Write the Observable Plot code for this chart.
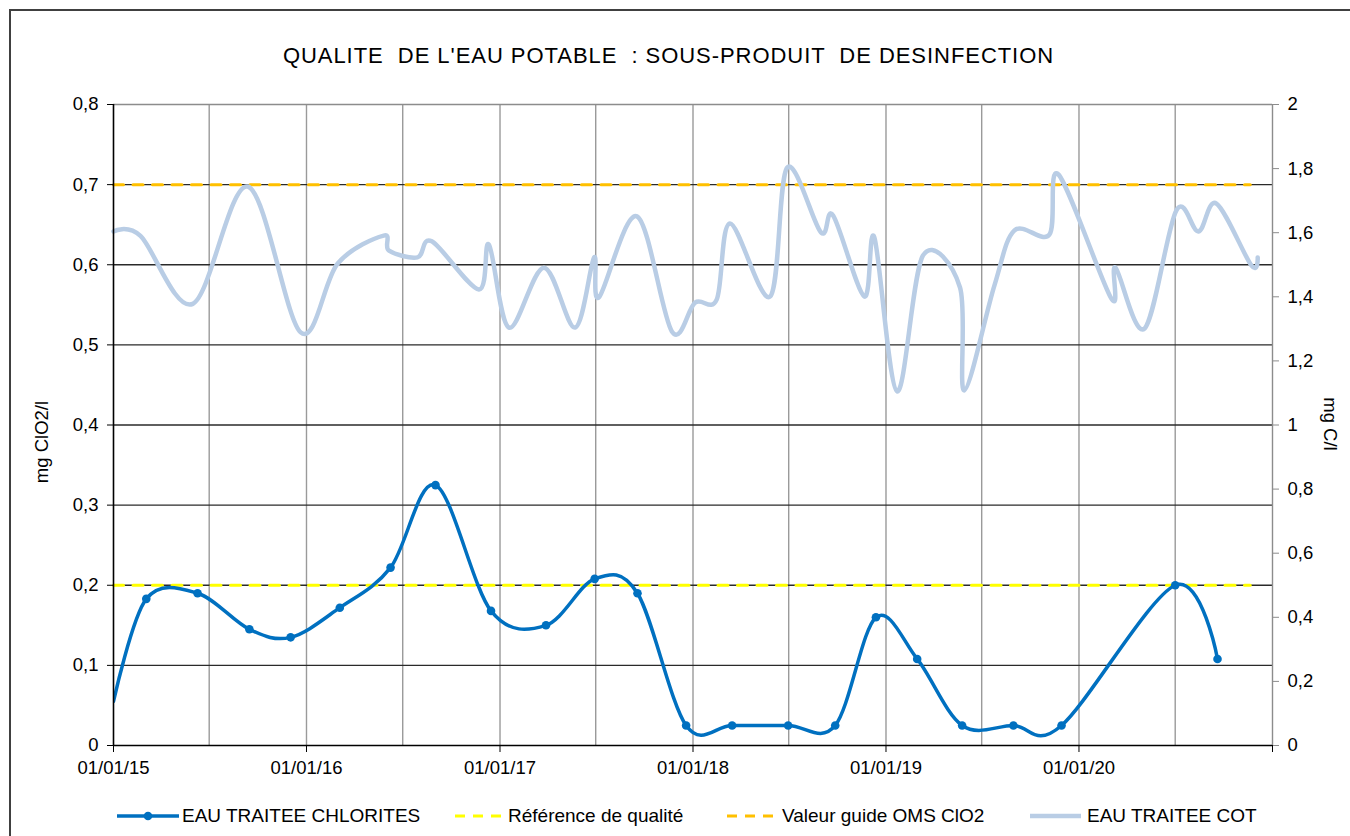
<!DOCTYPE html>
<html><head><meta charset="utf-8">
<script src="https://cdn.jsdelivr.net/npm/d3@7"></script>
<script src="https://cdn.jsdelivr.net/npm/@observablehq/plot@0.6"></script>
<style>
body{margin:0;background:#fff;font-family:"Liberation Sans",Arial,sans-serif;color:#000;}
#wrap{position:relative;width:1350px;height:836px;overflow:hidden;background:#fff;}
#frame{position:absolute;left:9px;top:9px;width:1400px;height:900px;border:2px solid #404040;box-sizing:border-box;}
#chart{position:absolute;left:0;top:0;}
#title{position:absolute;left:0;width:1337px;top:43px;text-align:center;font-size:22px;white-space:pre;letter-spacing:0.95px;}
.ytitle{position:absolute;font-size:18.5px;white-space:nowrap;}
.leg{position:absolute;top:804px;height:24px;display:flex;align-items:center;font-size:19px;white-space:nowrap;}
.leg svg{margin-right:3px;}
</style>
</head><body>
<div id="wrap">
  <div id="frame"></div>
  <div id="chart"></div>
  <div id="title"></div>
  <div class="ytitle" id="yl"></div>
  <div class="ytitle" id="yr"></div>
  <div id="legend"></div>
</div>
<script>
// ---- data ----
const titleText = "QUALITE  DE L'EAU POTABLE  : SOUS-PRODUIT  DE DESINFECTION";
const leftTitle = "mg ClO2/l";
const rightTitle = "mg C/l";

const chloriteDates = ["2015-01-01","2015-03-04","2015-06-09","2015-09-15","2015-12-02","2016-03-04","2016-06-08","2016-09-01","2016-12-15","2017-03-29","2017-06-29","2017-09-18","2017-12-19","2018-03-16","2018-06-30","2018-09-27","2018-12-13","2019-03-01","2019-05-25","2019-08-30","2019-11-29","2020-07-01","2020-09-19"];
const chloriteValues = [0.055,0.183,0.190,0.145,0.135,0.172,0.222,0.325,0.168,0.150,0.208,0.190,0.025,0.025,0.025,0.025,0.160,0.108,0.025,0.025,0.025,0.200,0.108];

const cotDates = ["2015-01-01","2015-02-21","2015-05-31","2015-09-12","2015-12-21","2016-02-29","2016-05-26","2016-06-05","2016-07-29","2016-08-25","2016-11-22","2016-12-11","2017-01-18","2017-03-25","2017-05-23","2017-06-28","2017-07-07","2017-09-17","2017-11-22","2018-01-05","2018-02-15","2018-03-12","2018-05-27","2018-06-28","2018-08-31","2018-09-23","2018-11-21","2018-12-10","2019-01-22","2019-03-12","2019-05-21","2019-05-29","2019-07-25","2019-09-01","2019-11-06","2019-11-23","2020-03-02","2020-03-10","2020-05-04","2020-07-03","2020-08-14","2020-09-17","2020-11-22","2020-12-04"];
const cotValues = [1.604,1.59,1.378,1.744,1.289,1.504,1.591,1.544,1.523,1.573,1.423,1.563,1.304,1.491,1.304,1.523,1.398,1.651,1.292,1.382,1.392,1.629,1.401,1.803,1.601,1.654,1.401,1.585,1.105,1.529,1.429,1.108,1.435,1.607,1.594,1.782,1.395,1.491,1.301,1.669,1.604,1.691,1.498,1.523];

const refQualite = 0.2;     // Référence de qualité (mg ClO2/l)
const refOMS = 0.7;         // Valeur guide OMS ClO2 (mg ClO2/l)
const refDates = ["2015-01-01","2020-11-20"];

const xDomain = ["2015-01-01","2021-01-01"];
const yearTicks = ["2015-01-01","2016-01-01","2017-01-01","2018-01-01","2019-01-01","2020-01-01","2021-01-01"];
const halfYearGrid = ["2015-07-01","2016-01-01","2016-07-01","2017-01-01","2017-07-01","2018-01-01","2018-07-01","2019-01-01","2019-07-01","2020-01-01","2020-07-01"];
const leftTicks = [0,0.1,0.2,0.3,0.4,0.5,0.6,0.7,0.8];
const rightTicks = [0,0.2,0.4,0.6,0.8,1,1.2,1.4,1.6,1.8,2];
const rightMax = 2, leftMax = 0.8;

const legendItems = ["EAU TRAITEE CHLORITES","Référence de qualité","Valeur guide OMS ClO2","EAU TRAITEE COT"];

// ---- build ----
const P = s => new Date(s + "T00:00:00");
const chlorites = chloriteDates.map((d,i)=>({date:P(d), v:chloriteValues[i]}));
const cot = cotDates.map((d,i)=>({date:P(d), v:cotValues[i]}));
const ratio = leftMax / rightMax;
const comma = v => String(+v.toFixed(2)).replace(".", ",");
const dd = d => d3.timeFormat("%d/%m/%y")(d);

const C_CHL = "#0070C0", C_COT = "#B9CDE5", C_Q = "#FFFF00", C_OMS = "#FFC000";

const chart = Plot.plot({
  width: 1350, height: 836,
  marginLeft: 113, marginRight: 78, marginTop: 104, marginBottom: 91,
  style: {fontSize: "18.5px", fontFamily: "'Liberation Sans', Arial, sans-serif", color: "#000", background: "transparent", overflow: "visible"},
  x: {type: "time", domain: xDomain.map(P)},
  y: {domain: [0, leftMax]},
  marks: [
    Plot.ruleX(halfYearGrid.map(P), {stroke: "#9a9a9a", strokeWidth: 1.4}),
    Plot.ruleY(leftTicks.filter(t => t > 0 && t < leftMax), {stroke: "#2a2a2a", strokeWidth: 1.4}),
    Plot.ruleY([leftMax], {stroke: "#8c8c8c", strokeWidth: 1.4}),
    Plot.ruleX([P(xDomain[1])], {stroke: "#8c8c8c", strokeWidth: 1.4}),
    Plot.line(refDates.map(d => ({date: P(d), v: refQualite})), {x: "date", y: "v", stroke: C_Q, strokeWidth: 3, strokeDasharray: "10,9.5"}),
    Plot.line(refDates.map(d => ({date: P(d), v: refOMS})), {x: "date", y: "v", stroke: C_OMS, strokeWidth: 3, strokeDasharray: "10,9.5"}),
    Plot.line(cot, {x: "date", y: d => d.v * ratio, stroke: C_COT, strokeWidth: 4.5, curve: "cardinal"}),
    Plot.line(chlorites, {x: "date", y: "v", stroke: C_CHL, strokeWidth: 3.5, curve: "cardinal", clip: true}),
    Plot.dot(chlorites.slice(1), {x: "date", y: "v", r: 4.3, fill: C_CHL}),
    Plot.ruleY([0], {stroke: "#000", strokeWidth: 1.6}),
    Plot.ruleX([P(xDomain[0])], {stroke: "#000", strokeWidth: 1.6}),
    Plot.axisY(leftTicks, {anchor: "left", tickSize: 6, tickPadding: 9, tickFormat: comma, label: null, stroke: "#000"}),
    Plot.axisY(rightTicks.map(t => t * ratio), {anchor: "right", tickSize: 6, tickPadding: 9, tickFormat: t => comma(t / ratio), label: null, stroke: "#8c8c8c"}),
    Plot.axisX(yearTicks.map(P), {anchor: "bottom", tickSize: 7, tickPadding: 8, tickFormat: d => d.getFullYear() === 2021 ? "" : dd(d), label: null, stroke: "#000"})
  ]
});
document.getElementById("chart").appendChild(chart);

document.getElementById("title").textContent = titleText;
const yl = document.getElementById("yl");
yl.textContent = leftTitle;
yl.style.left = "42px"; yl.style.top = "442px";
yl.style.transform = "translate(-50%,-50%) rotate(-90deg)";
const yr = document.getElementById("yr");
yr.textContent = rightTitle;
yr.style.left = "1330px"; yr.style.top = "424px";
yr.style.transform = "translate(-50%,-50%) rotate(90deg)";

// legend
const leg = document.getElementById("legend");
const swatches = [
  `<svg width="62" height="12"><line x1="0" y1="6" x2="62" y2="6" stroke="${C_CHL}" stroke-width="3.5"/><circle cx="31" cy="6" r="4.3" fill="${C_CHL}"/></svg>`,
  `<svg width="46" height="12"><line x1="0" y1="6" x2="46" y2="6" stroke="${C_Q}" stroke-width="3" stroke-dasharray="10,8"/></svg>`,
  `<svg width="48" height="12"><line x1="0" y1="6" x2="48" y2="6" stroke="${C_OMS}" stroke-width="3" stroke-dasharray="10,8"/></svg>`,
  `<svg width="51" height="12"><line x1="0" y1="6" x2="51" y2="6" stroke="${C_COT}" stroke-width="4.5"/></svg>`
];
const legLeft = [117, 455, 727, 1030];
const textLeft = [182, 508, 782, 1087];
legendItems.forEach((t, i) => {
  const el = document.createElement("div");
  el.className = "leg";
  el.style.left = legLeft[i] + "px";
  el.innerHTML = swatches[i];
  const sp = document.createElement("span");
  sp.textContent = t;
  sp.style.position = "absolute";
  sp.style.left = (textLeft[i] - legLeft[i]) + "px";
  el.appendChild(sp);
  leg.appendChild(el);
});
</script>
</body></html>
